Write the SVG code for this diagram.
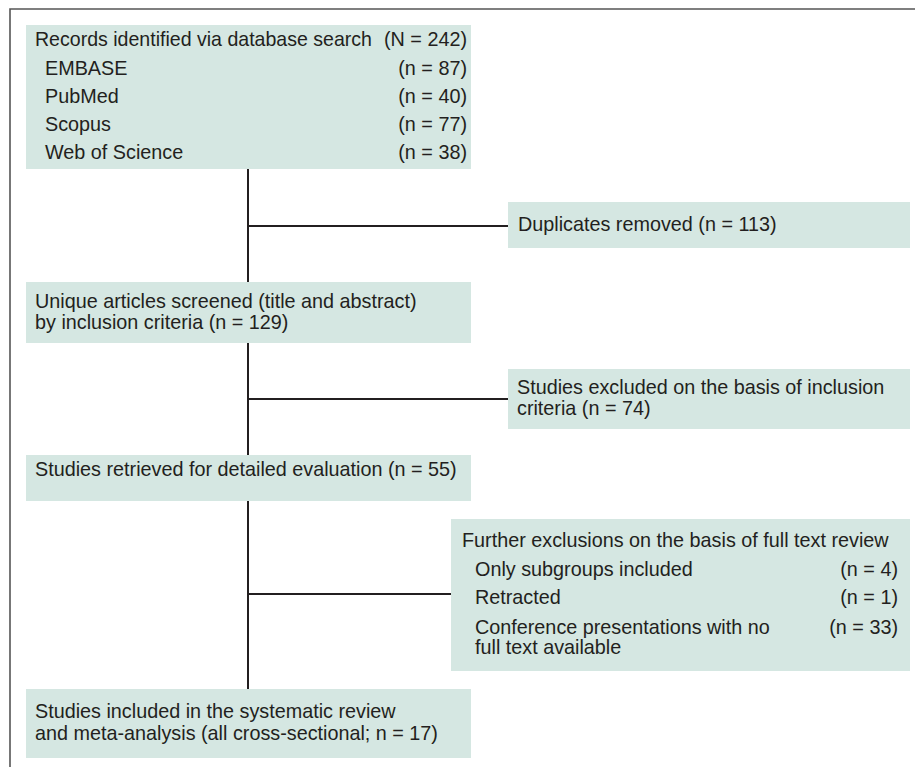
<svg xmlns="http://www.w3.org/2000/svg" width="915" height="767" viewBox="0 0 915 767">
<style>
.box{fill:#d5e7e2;stroke:none}
text{font-family:"Liberation Sans",Arial,sans-serif;font-size:19.8px;fill:#231f20}
.r{text-anchor:end}
.conn{stroke:#231f20;stroke-width:2;fill:none}
.frame{stroke:#555;stroke-width:1.6;fill:none}
</style>
<rect width="915" height="767" fill="#fff"/>
<path class="frame" d="M10 767 V9 H915"/>
<g id="connectors">
<line class="conn" x1="248" y1="169" x2="248" y2="689"/>
<line class="conn" x1="248" y1="226" x2="508" y2="226"/>
<line class="conn" x1="248" y1="399" x2="508" y2="399"/>
<line class="conn" x1="248" y1="594" x2="451" y2="594"/>
</g>
<g id="records">
<rect class="box" x="26" y="25" width="445" height="144"/>
<text x="35" y="46" textLength="337" lengthAdjust="spacingAndGlyphs">Records identified via database search</text>
<text class="r" x="467" y="46">(N = 242)</text>
<text x="45" y="74.5">EMBASE</text>
<text class="r" x="467" y="74.5">(n = 87)</text>
<text x="45" y="102.5">PubMed</text>
<text class="r" x="467" y="102.5">(n = 40)</text>
<text x="45" y="131">Scopus</text>
<text class="r" x="467" y="131">(n = 77)</text>
<text x="45" y="159">Web of Science</text>
<text class="r" x="467" y="159">(n = 38)</text>
</g>
<g id="duplicates">
<rect class="box" x="508" y="202" width="402" height="46"/>
<text x="518" y="231">Duplicates removed (n = 113)</text>
</g>
<g id="unique">
<rect class="box" x="26" y="282" width="445" height="61"/>
<text x="35" y="307.5">Unique articles screened (title and abstract)</text>
<text x="35" y="329">by inclusion criteria (n = 129)</text>
</g>
<g id="excluded">
<rect class="box" x="508" y="369" width="402" height="60"/>
<text x="517" y="393.5">Studies excluded on the basis of inclusion</text>
<text x="517" y="415">criteria (n = 74)</text>
</g>
<g id="retrieved">
<rect class="box" x="26" y="455" width="445" height="46"/>
<text x="35" y="476">Studies retrieved for detailed evaluation (n = 55)</text>
</g>
<g id="further">
<rect class="box" x="451" y="519" width="459" height="152"/>
<text x="462" y="546.5">Further exclusions on the basis of full text review</text>
<text x="475" y="575.5">Only subgroups included</text>
<text class="r" x="898" y="575.5">(n = 4)</text>
<text x="475" y="604">Retracted</text>
<text class="r" x="898" y="604">(n = 1)</text>
<text x="475" y="634">Conference presentations with no</text>
<text class="r" x="898" y="634">(n = 33)</text>
<text x="475" y="654">full text available</text>
</g>
<g id="included">
<rect class="box" x="26" y="689" width="445" height="69"/>
<text x="35" y="718">Studies included in the systematic review</text>
<text x="35" y="740">and meta-analysis (all cross-sectional; n = 17)</text>
</g>
</svg>
